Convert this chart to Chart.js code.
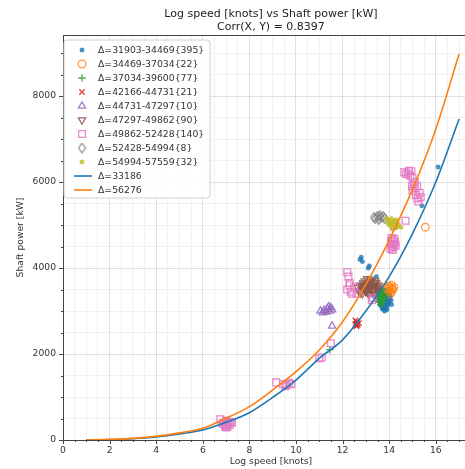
<!DOCTYPE html>
<html>
<head>
<meta charset="utf-8">
<script src="https://cdn.jsdelivr.net/npm/chart.js@4.4.1/dist/chart.umd.min.js"></script>
<style>
  html, body { margin: 0; padding: 0; background: #fff; overflow: hidden; }
  #wrap { width: 485px; height: 469px; }
</style>
</head>
<body>
<div id="wrap"><canvas id="speedPower" width="485" height="469"></canvas></div>
<script>
// --- data: [log speed (knots), shaft power (kW)] ---
const disp31903 = [
  [13.55, 3300], [13.6, 3250], [13.65, 3350], [13.7, 3200], [13.7, 3400], [13.75, 3300],
  [13.8, 3150], [13.8, 3250], [13.8, 3450], [13.85, 3350], [13.9, 3200], [13.9, 3100],
  [13.95, 3300], [14.0, 3250], [14.0, 3400], [13.6, 3150], [13.65, 3450], [13.75, 3500],
  [13.7, 3100], [13.85, 3050], [13.95, 3150], [14.05, 3350], [13.5, 3250], [13.55, 3400],
  [13.9, 3500], [13.75, 3050], [13.6, 3350], [13.8, 3350], [13.7, 3300], [13.85, 3250],
  [13.65, 3220], [13.72, 3160], [13.78, 3380], [13.88, 3420], [13.92, 3280], [13.98, 3200],
  [14.02, 3300], [13.82, 3080], [13.68, 3280], [13.58, 3230], [13.62, 3400], [13.95, 3380],
  [13.86, 3180], [13.76, 3230], [14.08, 3250], [13.9, 3030], [13.8, 3000], [13.7, 3050],
  [13.45, 3350], [13.52, 3450], [14.1, 3150], [13.66, 3120], [13.94, 3460],
  [12.75, 4200], [12.85, 4150], [12.8, 4250], [13.1, 4000], [13.15, 4050],
  [16.1, 6350], [15.4, 5450], [13.45, 3800], [13.5, 3500]
];
const disp34469 = [
  [13.9, 3500], [14.0, 3550], [14.1, 3450], [14.15, 3500], [14.05, 3400],
  [13.95, 3450], [14.2, 3550], [13.85, 3550], [14.1, 3600], [14.12, 3520],
  [14.02, 3480], [13.98, 3580], [15.55, 4950]
];
const disp37034 = [
  [13.55, 3350], [13.6, 3250], [13.65, 3400], [13.7, 3300], [13.75, 3200], [13.6, 3450],
  [13.8, 3350], [13.55, 3200], [13.7, 3500], [13.65, 3150], [13.75, 3400], [13.62, 3300],
  [13.68, 3220], [13.72, 3380], [13.58, 3420], [13.78, 3280], [11.45, 2100]
];
const disp42166 = [
  [12.55, 2700], [12.6, 2750], [12.65, 2680], [12.6, 2650], [12.7, 2720], [12.55, 2780],
  [12.62, 2710], [12.58, 2660]
];
const disp44731 = [
  [11.05, 3000], [11.2, 3020], [11.35, 3050], [11.45, 3000], [11.55, 3030],
  [11.5, 3080], [11.3, 2980], [11.4, 3100], [11.15, 2960], [11.55, 2650]
];
const disp47297 = [
  [12.9, 3600], [13.0, 3550], [13.1, 3650], [13.2, 3500], [13.3, 3600], [13.4, 3550],
  [13.0, 3450], [13.15, 3400], [13.25, 3700], [12.8, 3500], [12.7, 3450], [13.35, 3450],
  [13.5, 3500], [13.45, 3650], [13.05, 3750], [12.95, 3700], [13.2, 3600], [13.3, 3400],
  [12.85, 3400], [13.1, 3500], [12.75, 3600], [13.4, 3700], [13.55, 3600], [12.65, 3550],
  [12.92, 3520], [13.02, 3620], [13.12, 3560], [13.22, 3680], [13.32, 3520], [13.42, 3600],
  [12.82, 3580], [13.08, 3420], [13.28, 3460], [12.98, 3480], [13.18, 3740], [13.38, 3650],
  [12.88, 3650], [13.48, 3550], [13.14, 3600], [12.78, 3420]
];
const disp49862 = [
  [6.75, 480], [6.9, 400], [7.0, 350], [7.05, 300], [7.1, 380], [7.2, 420],
  [7.0, 450], [6.95, 330], [7.15, 350], [7.25, 400], [6.85, 380], [7.08, 420], [6.98, 300],
  [9.15, 1340], [9.45, 1300], [9.6, 1280], [9.7, 1330], [9.8, 1300], [9.55, 1250],
  [11.0, 1900], [11.1, 1920], [11.5, 2250],
  [12.2, 3900], [12.25, 3800], [12.3, 3650], [12.2, 3500], [12.35, 3450], [12.4, 3400],
  [12.5, 3550], [12.6, 3400], [12.3, 3600], [13.25, 3250], [13.3, 3300],
  [14.05, 4450], [14.1, 4550], [14.15, 4650], [14.2, 4500], [14.1, 4700], [14.25, 4600],
  [14.15, 4420], [14.08, 4620], [14.18, 4560], [14.22, 4680], [14.12, 4480], [14.28, 4520],
  [14.2, 4980], [14.7, 5100],
  [14.65, 6230], [14.8, 6200], [14.9, 6150], [15.0, 6100], [14.95, 6250], [15.05, 5950],
  [15.1, 6000], [15.0, 5800], [15.2, 5900], [15.3, 5750], [15.35, 5650], [15.25, 5550],
  [15.1, 5850], [14.72, 6180], [14.85, 6260], [15.15, 5700], [15.22, 5620], [14.98, 5900]
];
const disp52428 = [
  [13.35, 5180], [13.5, 5200], [13.65, 5170], [13.8, 5150],
  [13.55, 5130], [13.75, 5200], [13.4, 5150], [13.6, 5220]
];
const disp54994 = [
  [13.9, 5150], [14.0, 5100], [14.05, 5050], [14.1, 5150], [14.2, 5000], [14.3, 4950],
  [14.35, 5050], [14.15, 4900], [14.25, 5100], [14.0, 5000], [14.4, 5000], [13.95, 5050],
  [14.1, 4980], [14.3, 5120], [14.5, 4950], [14.2, 5080]
];

// fitted power curves for the two reference displacements
const curveSpeed = [1, 2, 3, 4, 5, 6, 7, 8, 9, 10, 11, 12, 13, 14, 15, 16, 17];
const curve33186 = [2, 10, 30, 70, 140, 233, 411, 635, 993, 1395, 1899, 2330, 3000, 3800, 4800, 6000, 7465];
const curve56276 = [3, 15, 38, 85, 165, 272, 504, 775, 1163, 1589, 2093, 2750, 3620, 4650, 5830, 7230, 8977];

const seriesLabels = [
  'Δ=31903-34469{395}', 'Δ=34469-37034{22}', 'Δ=37034-39600{77}',
  'Δ=42166-44731{21}', 'Δ=44731-47297{10}', 'Δ=47297-49862{90}',
  'Δ=49862-52428{140}', 'Δ=52428-54994{8}', 'Δ=54994-57559{32}'
];
const curveLabels = ['Δ=33186', 'Δ=56276'];
const titleLines = ['Log speed [knots] vs Shaft power [kW]', 'Corr(X, Y) = 0.8397'];
const xTickLabels = [0, 2, 4, 6, 8, 10, 12, 14, 16];
const yTickLabels = [0, 2000, 4000, 6000, 8000];

const X_MAX = 17.85;
const Y_MAX = 9420;
const FONT = '"DejaVu Sans", sans-serif';

// minor ticks: every 0.5 knot and every 500 kW
const xTickValues = [];
for (let v = 0; v <= X_MAX; v += 0.5) xTickValues.push(v);
const yTickValues = [];
for (let v = 0; v <= Y_MAX; v += 500) yTickValues.push(v);

// narrow diamond marker (matplotlib 'd')
function thinDiamond(color) {
  const c = document.createElement('canvas');
  c.width = 9; c.height = 11;
  const g = c.getContext('2d');
  g.strokeStyle = color;
  g.lineWidth = 1.2;
  g.beginPath();
  g.moveTo(4.5, 0.8); g.lineTo(8, 5.5); g.lineTo(4.5, 10.2); g.lineTo(1, 5.5);
  g.closePath();
  g.stroke();
  return c;
}

const toXY = arr => arr.map(p => ({ x: p[0], y: p[1] }));

const markerStyles = [
  { data: disp31903, color: 'rgba(31,119,180,0.8)', style: 'circle', r: 2.2, fill: true },
  { data: disp34469, color: 'rgba(255,127,14,0.8)', style: 'circle', r: 3.8 },
  { data: disp37034, color: 'rgba(44,160,44,0.85)', style: 'cross', r: 3.8 },
  { data: disp42166, color: 'rgba(214,39,40,0.9)', style: 'crossRot', r: 3.8 },
  { data: disp44731, color: 'rgba(148,103,189,0.85)', style: 'triangle', r: 4.2 },
  { data: disp47297, color: 'rgba(140,86,75,0.85)', style: 'triangle', r: 4.2, rot: 180 },
  { data: disp49862, color: 'rgba(227,119,194,0.85)', style: 'rect', r: 4.8 },
  { data: disp52428, color: 'rgba(127,127,127,0.9)', style: 'thin', r: 4 },
  { data: disp54994, color: 'rgba(188,189,34,0.8)', style: 'circle', r: 2.2, fill: true }
];

const datasets = markerStyles.map((m, i) => ({
  label: seriesLabels[i],
  data: toXY(m.data),
  pointStyle: m.style === 'thin' ? thinDiamond(m.color) : m.style,
  pointRadius: m.r,
  rotation: m.rot || 0,
  borderWidth: m.fill ? 0.5 : 1.3,
  borderColor: m.color,
  backgroundColor: m.fill ? m.color : 'rgba(0,0,0,0)',
  order: 20 - i
}));

[curve33186, curve56276].forEach((vals, i) => {
  datasets.push({
    label: curveLabels[i],
    data: curveSpeed.map((v, k) => ({ x: v, y: vals[k] })),
    showLine: true,
    pointRadius: 0,
    borderWidth: 1.6,
    borderColor: i === 0 ? '#1f77b4' : '#ff7f0e',
    backgroundColor: i === 0 ? '#1f77b4' : '#ff7f0e',
    cubicInterpolationMode: 'monotone',
    order: 1 - i
  });
});

const isMajorX = v => xTickLabels.some(t => Math.abs(t - v) < 1e-6);
const isMajorY = v => yTickLabels.includes(v);

// frame, tick marks, titles and the in-axes legend
const decorations = {
  id: 'decorations',
  afterDraw(chart) {
    const { ctx, chartArea: a } = chart;
    const xs = chart.scales.x, ys = chart.scales.y;
    ctx.save();
    ctx.strokeStyle = '#444';
    ctx.lineWidth = 1;
    ctx.strokeRect(a.left + 0.5, a.top + 0.5, a.right - a.left, a.bottom - a.top);

    xs.ticks.forEach(t => {
      const px = Math.round(xs.getPixelForValue(t.value)) + 0.5;
      const len = isMajorX(t.value) ? 4 : 2;
      ctx.beginPath(); ctx.moveTo(px, a.bottom); ctx.lineTo(px, a.bottom + len); ctx.stroke();
    });
    ys.ticks.forEach(t => {
      const py = Math.round(ys.getPixelForValue(t.value)) + 0.5;
      const len = isMajorY(t.value) ? 4 : 2;
      ctx.beginPath(); ctx.moveTo(a.left, py); ctx.lineTo(a.left - len, py); ctx.stroke();
    });

    const cx = (a.left + a.right) / 2;
    ctx.fillStyle = '#222';
    ctx.textAlign = 'center';
    ctx.textBaseline = 'middle';
    ctx.font = '11px ' + FONT;
    ctx.fillText(titleLines[0], cx, 14);
    ctx.fillText(titleLines[1], cx, 27.5);

    ctx.font = '9.2px ' + FONT;
    ctx.fillStyle = '#333';
    ctx.fillText('Log speed [knots]', cx, 462);
    ctx.save();
    ctx.translate(21, (a.top + a.bottom) / 2);
    ctx.rotate(-Math.PI / 2);
    ctx.fillText('Shaft power [kW]', 0, 0);
    ctx.restore();

    // legend box
    const bx = 64, by = 40, bw = 146, bh = 158, r = 3;
    ctx.beginPath();
    ctx.moveTo(bx + r, by);
    ctx.arcTo(bx + bw, by, bx + bw, by + bh, r);
    ctx.arcTo(bx + bw, by + bh, bx, by + bh, r);
    ctx.arcTo(bx, by + bh, bx, by, r);
    ctx.arcTo(bx, by, bx + bw, by, r);
    ctx.closePath();
    ctx.fillStyle = 'rgba(255,255,255,0.85)';
    ctx.fill();
    ctx.strokeStyle = '#d0d0d0';
    ctx.stroke();

    ctx.textAlign = 'left';
    ctx.font = '9.3px ' + FONT;
    chart.data.datasets.forEach((ds, i) => {
      const y = 50 + 14 * i;
      ctx.save();
      if (ds.showLine) {
        ctx.strokeStyle = ds.borderColor;
        ctx.lineWidth = 1.6;
        ctx.beginPath(); ctx.moveTo(74, y); ctx.lineTo(92, y); ctx.stroke();
      } else {
        ctx.strokeStyle = ds.borderColor;
        ctx.fillStyle = ds.backgroundColor;
        ctx.lineWidth = ds.borderWidth;
        Chart.helpers.drawPoint(ctx, {
          pointStyle: ds.pointStyle, radius: ds.pointRadius,
          rotation: ds.rotation, borderWidth: ds.borderWidth
        }, 82, y);
      }
      ctx.restore();
      ctx.fillStyle = '#333';
      ctx.fillText(ds.label, 98, y + 0.5);
    });
    ctx.restore();
  }
};

new Chart(document.getElementById('speedPower'), {
  type: 'scatter',
  data: { datasets },
  options: {
    responsive: false,
    animation: false,
    devicePixelRatio: 1,
    events: [],
    layout: { padding: { top: 35, right: 5, left: 0, bottom: 0 } },
    plugins: {
      legend: { display: false },
      tooltip: { enabled: false },
      title: { display: false }
    },
    scales: {
      x: {
        type: 'linear',
        min: 0,
        max: X_MAX,
        border: { display: false },
        grid: {
          drawTicks: false,
          lineWidth: 0.8,
          color: c => isMajorX(c.tick.value) ? '#d8d8d8' : '#eeeeee'
        },
        ticks: {
          autoSkip: false,
          maxRotation: 0,
          padding: 5,
          color: '#333',
          font: { family: FONT, size: 9.2 },
          callback: v => isMajorX(v) ? String(Math.round(v)) : ''
        },
        afterBuildTicks: s => { s.ticks = xTickValues.map(v => ({ value: v })); },
        afterFit: s => { s.height = 29; }
      },
      y: {
        type: 'linear',
        min: 0,
        max: Y_MAX,
        border: { display: false },
        grid: {
          drawTicks: false,
          lineWidth: 0.8,
          color: c => isMajorY(c.tick.value) ? '#d8d8d8' : '#eeeeee'
        },
        ticks: {
          autoSkip: false,
          padding: 7,
          color: '#333',
          font: { family: FONT, size: 9.2 },
          callback: v => isMajorY(v) ? String(v) : ''
        },
        afterBuildTicks: s => { s.ticks = yTickValues.map(v => ({ value: v })); },
        afterFit: s => { s.width = 63; }
      }
    }
  },
  plugins: [decorations]
});
</script>
</body>
</html>
